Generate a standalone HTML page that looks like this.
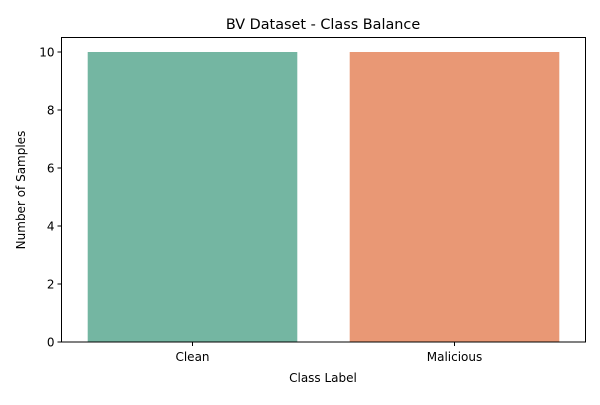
<!DOCTYPE html>
<html><head><meta charset="utf-8"><style>
body{margin:0;background:#fff}
svg text{font-family:"DejaVu Sans","Liberation Sans",sans-serif;fill:#000}
</style></head><body>
<svg id="chart" width="600" height="400">
<text x="323" y="29" font-size="14.4" text-anchor="middle">BV Dataset - Class Balance</text>
<g id="bars"></g><g id="yticks"></g><g id="xticks"></g>
<rect x="61.5" y="37.5" width="524" height="304.5" fill="none" stroke="#000" stroke-width="1"/>
<text x="323" y="382" font-size="12" text-anchor="middle">Class Label</text>
<text transform="translate(25,190) rotate(-90)" font-size="12" text-anchor="middle">Number of Samples</text>
</svg>
<script>
const categories=["Clean","Malicious"];
const counts=[10,10];
const yTicks=[0,2,4,6,8,10];
const colors=["#74b6a2","#e99875"];
const L=61.5,R=585.5,T=37.5,B=342;
const yMax=10.5;
const y=v=>B-(v/yMax)*(B-T);
const step=(R-L)/categories.length;
const x=i=>L+step*(i+0.5);
const ns="http://www.w3.org/2000/svg";
const bars=document.getElementById('bars'),yt=document.getElementById('yticks'),xt=document.getElementById('xticks');
categories.forEach((c,i)=>{
 const r=document.createElementNS(ns,'rect');
 const w=step*0.8;
 r.setAttribute('x',x(i)-w/2);r.setAttribute('y',y(counts[i]));
 r.setAttribute('width',w);r.setAttribute('height',B-y(counts[i]));
 r.setAttribute('fill',colors[i]);
 
 
 bars.appendChild(r);
 const l=document.createElementNS(ns,'line');
 l.setAttribute('x1',x(i));l.setAttribute('x2',x(i));l.setAttribute('y1',B);l.setAttribute('y2',B+4);l.setAttribute('stroke','#000');
 xt.appendChild(l);
 const t=document.createElementNS(ns,'text');
 t.setAttribute('x',x(i));t.setAttribute('y',B+19);t.setAttribute('font-size','12');t.setAttribute('text-anchor','middle');
 t.textContent=c;
 
 
 xt.appendChild(t);
});
yTicks.forEach(v=>{
 const l=document.createElementNS(ns,'line');
 l.setAttribute('x1',L-4);l.setAttribute('x2',L);l.setAttribute('y1',y(v));l.setAttribute('y2',y(v));l.setAttribute('stroke','#000');
 yt.appendChild(l);
 const t=document.createElementNS(ns,'text');
 t.setAttribute('x',L-7);t.setAttribute('y',y(v)+4.5);t.setAttribute('font-size','12');t.setAttribute('text-anchor','end');
 t.textContent=v;
 
 
 yt.appendChild(t);
});
</script>
</body></html>
